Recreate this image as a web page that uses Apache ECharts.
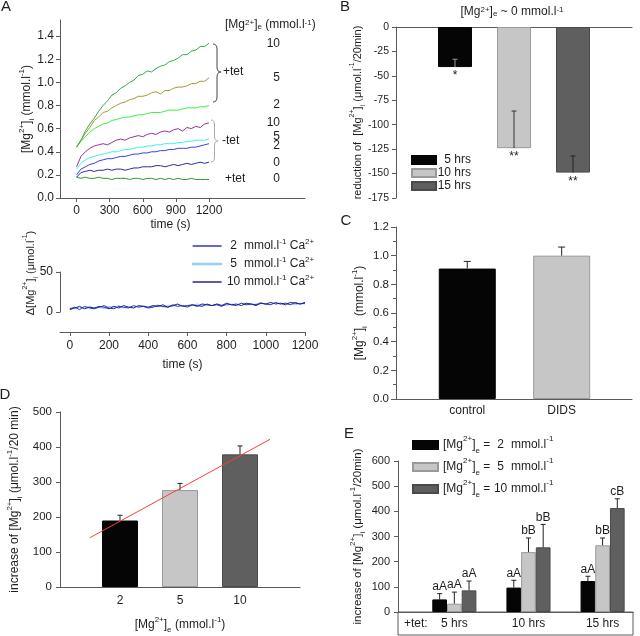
<!DOCTYPE html>
<html>
<head>
<meta charset="utf-8">
<script src="https://cdn.jsdelivr.net/npm/echarts@6.0.0/dist/echarts.min.js"></script>
<style>
html,body{margin:0;padding:0;background:#ffffff;}
#chart{width:640px;height:636px;}
</style>
</head>
<body>
<div id="chart"></div>
<script>
// ================= DATA =================
// Panel A (upper): [Mg2+]i time courses (mmol/l)
const timeA = [0,40,80,120,160,200,240,280,320,360,400,440,480,520,560,600,640,680,720,760,800,840,880,920,960,1000,1040,1080,1120,1160,1200];
const mgA_10tet = [0.44,0.50,0.58,0.64,0.69,0.75,0.80,0.84,0.89,0.91,0.95,0.97,1.00,1.02,1.06,1.07,1.10,1.09,1.12,1.14,1.15,1.18,1.19,1.21,1.24,1.24,1.27,1.28,1.31,1.31,1.34];
const mgA_5tet  = [0.44,0.50,0.56,0.61,0.67,0.70,0.74,0.75,0.78,0.80,0.82,0.83,0.85,0.86,0.88,0.88,0.89,0.91,0.92,0.90,0.93,0.93,0.95,0.96,0.96,0.97,0.99,0.99,1.01,1.01,1.04];
const mgA_2tet  = [0.44,0.49,0.53,0.57,0.60,0.62,0.64,0.65,0.67,0.68,0.69,0.70,0.70,0.71,0.72,0.72,0.73,0.74,0.74,0.74,0.75,0.76,0.76,0.76,0.77,0.78,0.78,0.78,0.79,0.79,0.80];
const mgA_10    = [0.27,0.36,0.40,0.43,0.45,0.46,0.47,0.46,0.48,0.50,0.51,0.50,0.52,0.53,0.54,0.53,0.55,0.56,0.55,0.57,0.58,0.57,0.59,0.60,0.58,0.61,0.60,0.62,0.61,0.64,0.65];
const mgA_5     = [0.25,0.30,0.33,0.35,0.36,0.37,0.38,0.39,0.40,0.40,0.41,0.42,0.42,0.43,0.44,0.44,0.45,0.45,0.46,0.46,0.47,0.47,0.47,0.48,0.48,0.49,0.49,0.50,0.50,0.50,0.51];
const mgA_2     = [0.20,0.25,0.27,0.29,0.30,0.32,0.33,0.34,0.34,0.35,0.36,0.36,0.37,0.38,0.38,0.39,0.39,0.40,0.40,0.41,0.41,0.42,0.42,0.43,0.43,0.43,0.44,0.44,0.45,0.46,0.47];
const mgA_0     = [0.18,0.22,0.23,0.24,0.23,0.24,0.24,0.25,0.24,0.25,0.25,0.24,0.25,0.26,0.26,0.27,0.27,0.27,0.28,0.28,0.27,0.28,0.29,0.28,0.29,0.30,0.29,0.30,0.31,0.30,0.31];
const mgA_0tet  = [0.18,0.17,0.18,0.17,0.17,0.18,0.17,0.17,0.16,0.17,0.17,0.17,0.16,0.17,0.17,0.16,0.17,0.17,0.16,0.17,0.16,0.17,0.16,0.17,0.16,0.16,0.17,0.16,0.16,0.16,0.16];
const timeTicksA = [0,300,600,900,1200];
const mgTicksA = [0,0.2,0.4,0.6,0.8,1.0,1.2,1.4];
const levelLabelsA = ['10','5','2','10','5','2','0','0'];

// Panel A (lower): delta [Mg2+]i (umol/l) at different Ca2+
const timeA2 = [0,25,50,75,100,125,150,175,200,225,250,275,300,325,350,375,400,425,450,475,500,525,550,575,600,625,650,675,700,725,750,775,800,825,850,875,900,925,950,975,1000,1025,1050,1075,1100,1125,1150,1175,1200];
const dMg_Ca2  = [4,6,3,7,5,4,6,8,5,4, 7,6,5,8,6,7,5,6,8,7, 6,9,7,8,6,9,8,7,10,8, 9,7,10,9,8,11,9,10,8,11, 10,9,12,10,11,9,12,10,11];
const dMg_Ca5  = [5,4,6,5,7,5,6,4,7,6, 8,5,7,6,7,8,6,7,9,6, 8,7,9,8,7,8,10,8,9,8, 10,9,8,10,9,11,10,9,10,12, 9,10,11,10,11,10,9,11,10];
const dMg_Ca10 = [3,5,7,4,6,5,7,6,4,7, 5,8,6,5,8,7,6,8,7,9, 6,8,10,7,8,9,7,10,9,8, 10,8,11,9,10,8,11,10,9,11, 10,12,10,11,9,12,11,10,12];
const caLevels = ['2','5','10'];
const timeTicksA2 = [0,200,400,600,800,1000,1200];

// Panel B
const groupsB = ['5 hrs','10 hrs','15 hrs'];
const posB = [1,2,3];
const reductionB = [-41,-124,-149];
const reductionErrB = [-33,-86,-132];
const starsB = ['*','**','**'];

// Panel C
const catsC = ['control','DIDS'];
const posC = [1,2];
const mgC = [0.91,1.00];
const mgErrC = [0.96,1.06];

// Panel D
const catsD = ['2','5','10'];
const posD = [1,2,3];
const incD = [190,277,379];
const incErrD = [205,296,403];
const fitX = [0.5,3.5];
const fitY = [141,422];

// Panel E
const groupsE = ['5 hrs','10 hrs','15 hrs'];
const posE = [1,2,3];
const mgLevelsE = ['2','5','10'];
const incE2 = [50,97,123];   const errE2 = [73,126,142];   const letE2 = ['aA','aA','aA'];
const incE5 = [33,238,265];  const errE5 = [79,294,294];   const letE5 = ['aA','bB','bB'];
const incE10 = [86,257,413]; const errE10 = [123,348,450]; const letE10 = ['aA','bB','cB'];

// ================= STYLE =================
const FF = '"Liberation Sans", Arial, Helvetica, sans-serif';
const TXT = '#1e1e1e';
const AXC = '#5a5a5a';
const BLACK = '#050505', LIGHT = '#c6c6c6', DARK = '#5f5f5f';

function rich(fs, lh) {
  const s = Math.round(fs * 0.68);
  return {
    t:   {fontSize: fs, lineHeight: lh, fontFamily: FF, color: TXT},
    n:   {fontSize: fs, lineHeight: lh, fontFamily: FF, color: TXT, width: 14, align: 'right'},
    r:   {fontSize: fs, lineHeight: lh, fontFamily: FF, color: TXT, width: 30, align: 'right'},
    sup: {fontSize: s, lineHeight: 10, verticalAlign: 'top', fontFamily: FF, color: TXT},
    sub: {fontSize: s, lineHeight: 10, verticalAlign: 'bottom', fontFamily: FF, color: TXT}
  };
}

function baseAxis() {
  return {
    type: 'value',
    splitLine: {show: false},
    axisLine: {show: true, onZero: false, lineStyle: {color: AXC, width: 1}},
    axisTick: {show: true, inside: false, length: 4, lineStyle: {color: AXC}},
    axisLabel: {color: TXT, fontFamily: FF, fontSize: 12, formatter: v => String(v)},
    nameMoveOverlap: false,
    nameLocation: 'middle',
    nameTextStyle: {fontFamily: FF, fontSize: 12, color: TXT, lineHeight: 18, rich: rich(12, 18)}
  };
}
function ax(o) { return echarts.util.merge(baseAxis(), o, true); }

function errSeries(xi, yi, xs, vals, errs, opt) {
  return {
    type: 'custom', xAxisIndex: xi, yAxisIndex: yi, silent: true, z: 5, clip: false,
    data: xs.map((x, i) => [x, vals[i], errs[i]]),
    encode: {x: 0, y: [1, 2]},
    renderItem: function (params, api) {
      const i = params.dataIndex;
      const pv = api.coord([api.value(0), api.value(1)]);
      const pe = api.coord([api.value(0), api.value(2)]);
      const cx = pv[0] + (opt.off || 0);
      const col = opt.colors ? opt.colors[i] : '#222';
      const h = opt.cap / 2;
      const ch = [
        {type: 'line', shape: {x1: cx, y1: pv[1], x2: cx, y2: pe[1]}, style: {stroke: col, lineWidth: 1}},
        {type: 'line', shape: {x1: cx - h, y1: pe[1], x2: cx + h, y2: pe[1]}, style: {stroke: col, lineWidth: 1}}
      ];
      if (opt.labels) {
        const below = opt.labelAt === 'bar';
        ch.push({
          type: 'text', x: cx, y: below ? pv[1] + 3 : pe[1] - 1,
          style: {text: opt.labels[i], fill: TXT, font: '12px ' + FF,
                  align: 'center', textAlign: 'center',
                  verticalAlign: below ? 'top' : 'bottom', textVerticalAlign: below ? 'top' : 'bottom'}
        });
      }
      return {type: 'group', children: ch};
    }
  };
}

function gtext(x, y, text, o) {
  o = o || {};
  return {
    type: 'text', x: x, y: y, silent: true,
    style: {
      text: text, fill: TXT, font: (o.fs || 12) + 'px ' + FF,
      align: o.align || 'left', textAlign: o.align || 'left',
      verticalAlign: 'middle', textVerticalAlign: 'middle',
      rich: rich(o.fs || 12, 18)
    }
  };
}

function brace(x0, y0, y1, ym, w, color) {
  const xm = x0 + w / 2, r = 5;
  const st = {stroke: color, lineWidth: 1, fill: null};
  return [
    {type: 'bezierCurve', shape: {x1: x0, y1: y0, x2: xm, y2: y0 + r, cpx1: xm, cpy1: y0}, style: st},
    {type: 'line', shape: {x1: xm, y1: y0 + r, x2: xm, y2: ym - r}, style: st},
    {type: 'bezierCurve', shape: {x1: xm, y1: ym - r, x2: x0 + w, y2: ym, cpx1: xm, cpy1: ym}, style: st},
    {type: 'bezierCurve', shape: {x1: x0 + w, y1: ym, x2: xm, y2: ym + r, cpx1: xm, cpy1: ym}, style: st},
    {type: 'line', shape: {x1: xm, y1: ym + r, x2: xm, y2: y1 - r}, style: st},
    {type: 'bezierCurve', shape: {x1: xm, y1: y1 - r, x2: x0, y2: y1, cpx1: xm, cpy1: y1}, style: st}
  ];
}

const MG_I = '[Mg{sup|2+}]{sub|i}';

// ================= GRIDS =================
const grids = [
  {left: 60, top: 20, width: 245, height: 178},    // 0 A upper
  {left: 60, top: 272, width: 245, height: 60},    // 1 A lower data
  {left: 60, top: 272, width: 245, height: 40},    // 2 A lower y axis
  {left: 396, top: 27, width: 236, height: 171},   // 3 B
  {left: 396, top: 227, width: 236, height: 172},  // 4 C
  {left: 60, top: 412, width: 240, height: 175},   // 5 D
  {left: 398, top: 461, width: 235, height: 151}   // 6 E
].map(g => Object.assign({outerBoundsMode: 'none', containLabel: false}, g));

const xAxes = [
  ax({gridIndex: 0, min: -150, max: 2070,
      axisTick: {customValues: timeTicksA}, axisLabel: {customValues: timeTicksA, margin: 7},
      name: 'time (s)', nameGap: 18, nameTextStyle: {padding: [0, 24, 0, 0]}}),
  ax({gridIndex: 1, min: -50, max: 1200,
      axisTick: {customValues: timeTicksA2}, axisLabel: {customValues: timeTicksA2, margin: 8},
      name: 'time (s)', nameGap: 24}),
  ax({gridIndex: 2, min: -50, max: 1200, show: false}),
  ax({gridIndex: 3, min: 0, max: 4, position: 'top', axisTick: {show: false}, axisLabel: {show: false}}),
  ax({gridIndex: 4, min: 0.245, max: 2.745, axisTick: {show: false},
      axisLabel: {customValues: posC, margin: 6, formatter: v => catsC[posC.indexOf(v)]}}),
  ax({gridIndex: 5, min: 0, max: 4, axisTick: {show: false},
      axisLabel: {customValues: posD, margin: 8, formatter: v => catsD[posD.indexOf(v)]},
      name: '[Mg{sup|2+}]{sub|e} (mmol.l{sup|-1})', nameGap: 29}),
  ax({gridIndex: 6, min: 0.24, max: 3.41, axisTick: {show: false},
      axisLabel: {customValues: posE, margin: 6, formatter: v => groupsE[posE.indexOf(v)]}})
];

const yAxes = [
  ax({gridIndex: 0, min: 0, max: 1.54,
      axisTick: {customValues: mgTicksA}, axisLabel: {customValues: mgTicksA, margin: 6, formatter: v => v.toFixed(1)},
      name: MG_I + ' (mmol.l{sup|-1})', nameGap: 24}),
  ax({gridIndex: 1, min: -25, max: 50, show: false}),
  ax({gridIndex: 2, min: 0, max: 50, interval: 50, axisLabel: {margin: 7},
      name: 'Δ' + MG_I + ' (μmol.l{sup|-1})', nameGap: 20,
      nameTextStyle: {fontSize: 11, rich: rich(11, 18), padding: [0, 0, 0, 38]}}),
  ax({gridIndex: 3, min: -175, max: 0, interval: 25, axisLabel: {fontSize: 10.5, margin: 7},
      name: 'reduction of  ' + MG_I + ' (μmol.l{sup|-1}/20min)', nameGap: 29,
      nameTextStyle: {fontSize: 11, rich: rich(11, 18)}}),
  ax({gridIndex: 4, min: 0, max: 1.2, interval: 0.2,
      axisTick: {length: 5}, minorTick: {show: true, splitNumber: 2, length: 3, lineStyle: {color: AXC}},
      axisLabel: {fontSize: 11.5, margin: 7, formatter: v => v.toFixed(1)},
      name: MG_I + '   (mmol.l{sup|-1})', nameGap: 27}),
  ax({gridIndex: 5, min: 0, max: 500, interval: 100, axisLabel: {fontSize: 11.5, margin: 8},
      name: 'increase of ' + MG_I + ' (μmol.l{sup|-1}/20 min)', nameGap: 36}),
  ax({gridIndex: 6, min: 0, max: 600, interval: 100, axisLabel: {fontSize: 11, margin: 8},
      name: 'increase of ' + MG_I + ' (μmol.l{sup|-1}/20min)', nameGap: 31,
      nameTextStyle: {fontSize: 11.5, rich: rich(11.5, 18)}})
];

// ================= SERIES =================
const series = [];
const tracesA = [
  {d: mgA_0tet, c: '#2f9a2f'},
  {d: mgA_0, c: '#2b2b9e'},
  {d: mgA_2, c: '#3c3cec'},
  {d: mgA_5, c: '#3ff0f0'},
  {d: mgA_10, c: '#993399'},
  {d: mgA_2tet, c: '#3ff03f'},
  {d: mgA_5tet, c: '#a39b2c'},
  {d: mgA_10tet, c: '#3aa84c'}
];
tracesA.forEach((tr, k) => series.push({
  type: 'line', name: 'A' + k, xAxisIndex: 0, yAxisIndex: 0, silent: true,
  showSymbol: false, symbol: 'none', lineStyle: {width: 1, color: tr.c}, itemStyle: {color: tr.c},
  data: timeA.map((t, i) => [t, tr.d[i]])
}));

const tracesA2 = [
  {name: 'Ca 5', d: dMg_Ca5, c: '#8fcdfb'},
  {name: 'Ca 2', d: dMg_Ca2, c: '#3434c4'},
  {name: 'Ca 10', d: dMg_Ca10, c: '#24248a'}
];
tracesA2.forEach(tr => series.push({
  type: 'line', name: tr.name, xAxisIndex: 1, yAxisIndex: 1, silent: true,
  showSymbol: false, symbol: 'none', lineStyle: {width: 1, color: tr.c}, itemStyle: {color: tr.c},
  data: timeA2.map((t, i) => [t, tr.d[i]])
}));

// B
const colB = [BLACK, LIGHT, DARK];
const borderB = [BLACK, '#9a9a9a', '#4a4a4a'];
groupsB.forEach((g, i) => series.push({
  type: 'bar', name: g, xAxisIndex: 3, yAxisIndex: 3, barWidth: 34, barGap: '-100%', silent: true,
  itemStyle: {color: colB[i], borderColor: borderB[i], borderWidth: 1},
  data: [[posB[i], reductionB[i]]]
}));
series.push(errSeries(3, 3, posB, reductionB, reductionErrB,
  {cap: 5, colors: ['#9a9a9a', '#333', '#222'], labels: starsB, labelAt: 'bar'}));

// C
series.push({
  type: 'bar', name: 'C', xAxisIndex: 4, yAxisIndex: 4, barWidth: 57, silent: true,
  data: posC.map((x, i) => ({value: [x, mgC[i]],
    itemStyle: {color: [BLACK, LIGHT][i], borderColor: [BLACK, '#9a9a9a'][i], borderWidth: 1}}))
});
series.push(errSeries(4, 4, posC, mgC, mgErrC, {cap: 7}));

// D
series.push({
  type: 'bar', name: 'D', xAxisIndex: 5, yAxisIndex: 5, barWidth: 36, silent: true,
  data: posD.map((x, i) => ({value: [x, incD[i]],
    itemStyle: {color: colB[i], borderColor: borderB[i], borderWidth: 1}}))
});
series.push(errSeries(5, 5, posD, incD, incErrD, {cap: 5}));
series.push({
  type: 'line', name: 'fit', xAxisIndex: 5, yAxisIndex: 5, silent: true, z: 6,
  showSymbol: false, symbol: 'none', lineStyle: {width: 1, color: '#ff3b3b'},
  data: fitX.map((x, i) => [x, fitY[i]])
});

// E
const BW_E = 14.7;
const setsE = [
  {v: incE2, e: errE2, l: letE2},
  {v: incE5, e: errE5, l: letE5},
  {v: incE10, e: errE10, l: letE10}
];
setsE.forEach((s, k) => series.push({
  type: 'bar', name: 'Mg ' + mgLevelsE[k], xAxisIndex: 6, yAxisIndex: 6, barWidth: BW_E, barGap: '0%', silent: true,
  itemStyle: {color: colB[k], borderColor: borderB[k], borderWidth: 1},
  data: posE.map((x, i) => [x, s.v[i]])
}));
setsE.forEach((s, k) => series.push(errSeries(6, 6, posE, s.v, s.e,
  {cap: 5, off: (k - 1) * BW_E, labels: s.l})));

// ================= LEGENDS =================
const legends = [
  {
    left: 192, top: 238, padding: 0, orient: 'vertical', itemWidth: 29, itemHeight: 1.5, itemGap: 2,
    icon: 'rect', selectedMode: false,
    data: [{name: 'Ca 2'}, {name: 'Ca 5', itemStyle: {borderWidth: 1.2, borderColor: '#8fcdfb'}}, {name: 'Ca 10'}],
    formatter: name => '{n|' + name.split(' ')[1] + '}{t| mmol.l}{sup|-1}{t| Ca}{sup|2+}',
    textStyle: {fontFamily: FF, fontSize: 12, color: TXT, lineHeight: 16, rich: rich(12, 16)}
  },
  {
    left: 411, top: 154, padding: 0, orient: 'vertical', itemWidth: 24, itemHeight: 8, itemGap: 1, icon: 'rect', selectedMode: false,
    data: groupsB,
    formatter: name => '{r|' + name + '}',
    textStyle: {fontFamily: FF, fontSize: 12, color: TXT, lineHeight: 12, rich: rich(12, 12)}
  },
  {
    left: 412, top: 435, padding: 0, orient: 'vertical', itemWidth: 25, itemHeight: 8, itemGap: 2, icon: 'rect', selectedMode: false,
    data: mgLevelsE.map(l => 'Mg ' + l),
    formatter: name => '{t|[Mg}{sup|2+}{t|]}{sub|e}{t| = }{n|' + name.split(' ')[1] + '}{t| mmol.l}{sup|-1}',
    textStyle: {fontFamily: FF, fontSize: 12, color: TXT, lineHeight: 20, rich: rich(12, 20)}
  }
];

// ================= ANNOTATIONS =================
const levelY = [44, 78, 105, 123, 137, 146, 163, 179];
const graphics = [
  gtext(6, 7, 'A', {fs: 15, align: 'center'}),
  gtext(345, 7, 'B', {fs: 15, align: 'center'}),
  gtext(346, 221, 'C', {fs: 15, align: 'center'}),
  gtext(5, 395, 'D', {fs: 15, align: 'center'}),
  gtext(349, 434, 'E', {fs: 15, align: 'center'}),
  gtext(225, 25, '[Mg{sup|2+}]{sub|e} (mmol.l{sup|-1})'),
  gtext(223, 72, '+tet'),
  gtext(222, 141, '-tet'),
  gtext(225, 179, '+tet'),
  gtext(512, 12, '[Mg{sup|2+}]{sub|e} ~ 0 mmol.l{sup|-1}', {align: 'center'}),
  gtext(404, 624, '+tet:'),
  {type: 'rect', silent: true, shape: {x: 398, y: 612, width: 235, height: 23},
   style: {fill: null, stroke: AXC, lineWidth: 1}}
].concat(levelLabelsA.map((t, i) => gtext(280, levelY[i], t, {align: 'right'})))
 .concat(brace(213, 44, 102, 72, 8, '#444'))
 .concat(brace(211, 120, 162, 141, 7, '#aaaaaa'));

const chart = echarts.init(document.getElementById('chart'), null, {renderer: 'canvas', width: 640, height: 636});
chart.setOption({
  backgroundColor: '#ffffff',
  animation: false,
  textStyle: {fontFamily: FF},
  grid: grids,
  xAxis: xAxes,
  yAxis: yAxes,
  legend: legends,
  series: series,
  graphic: {elements: graphics}
});
</script>
</body>
</html>
